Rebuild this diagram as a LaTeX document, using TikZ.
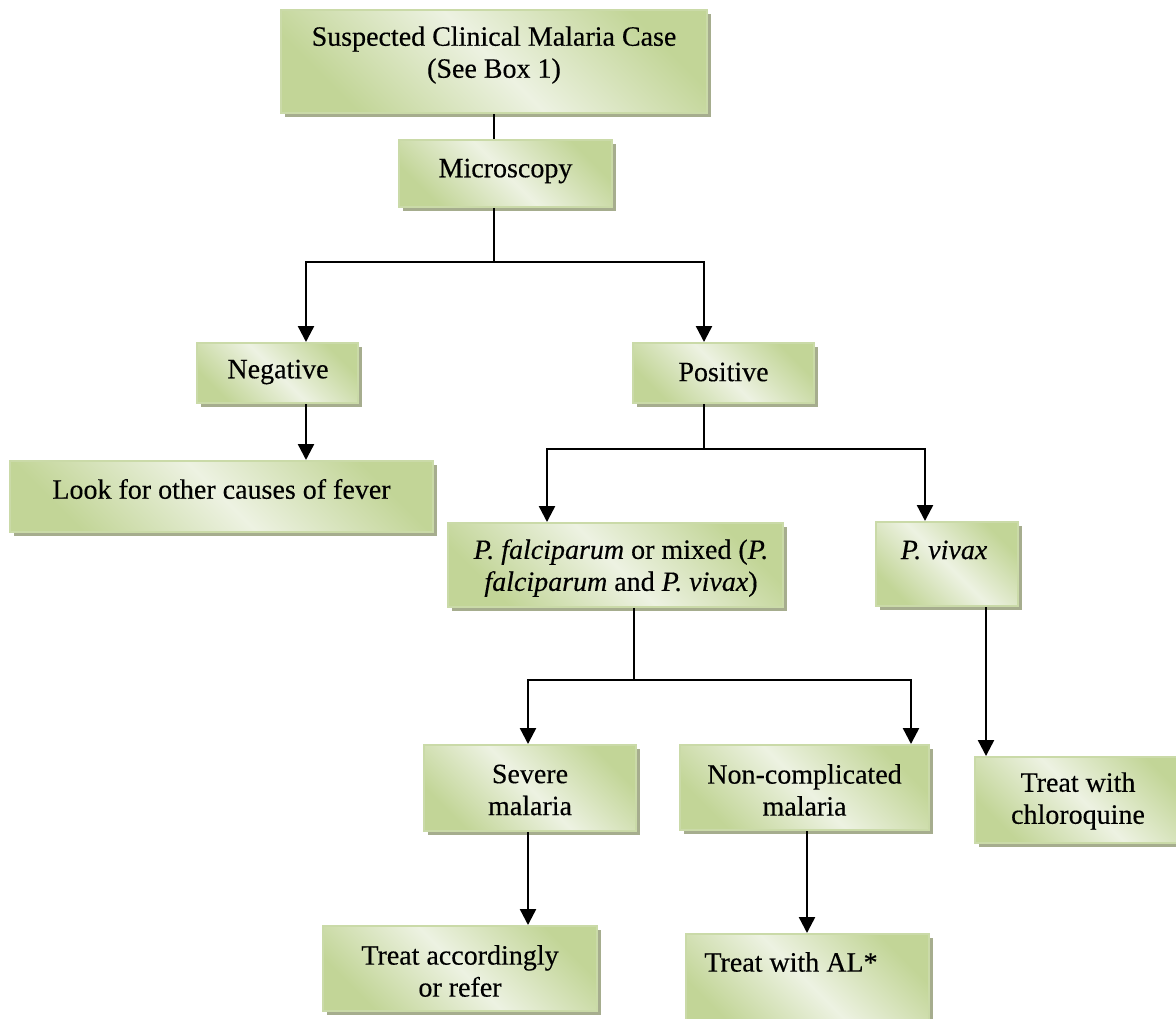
\documentclass[tikz,border=0pt]{standalone}
\usepackage{fontspec}
\setmainfont{Liberation Serif}[FakeBold=0.3]
\usetikzlibrary{arrows.meta,shadows,fit}
\definecolor{mossd}{HTML}{C2D597}
\definecolor{mossl}{HTML}{EDF2E2}
\definecolor{mossb}{HTML}{CADAA8}
\definecolor{shadowc}{HTML}{A6AD8E}
\begin{document}
\begin{tikzpicture}[x=0.5pt,y=-0.5pt,
  box/.style={draw=mossb, line width=1pt, inner sep=0pt,
    top color=mossd, bottom color=mossd, middle color=mossl, shading angle=-45,
    drop shadow={shadow xshift=2pt, shadow yshift=-2pt, fill=shadowc, opacity=1}},
  txt/.style={align=center, inner sep=0pt, font=\fontsize{14}{16}\selectfont},
  conn/.style={line width=1.2pt, black},
  arr/.style={conn, -{Triangle[width=8pt,length=8pt]}}]
\useasboundingbox (0,0) rectangle (1176,1018);
% boxes
\node[box, fit={(281,10) (707,113)}] (susp) {};
\node[box, fit={(399,140) (612,207)}] (micro) {};
\node[box, fit={(197,343) (358,403)}] (neg) {};
\node[box, fit={(633,343) (814,403)}] (pos) {};
\node[box, fit={(10,461) (433,532)}] (look) {};
\node[box, fit={(448,523) (783,607)}] (pfal) {};
\node[box, fit={(876,522) (1018,606)}] (viv) {};
\node[box, fit={(424,745) (636,831)}] (sev) {};
\node[box, fit={(680,745) (929,830)}] (nonc) {};
\node[box, fit={(975,757) (1190,843)}] (chlq) {};
\node[box, fit={(323,926) (597,1011)}] (acc) {};
\node[box, fit={(686,934) (929,1030)}] (al) {};
% texts
\node[txt] (tsusp) at (494,55) {Suspected Clinical Malaria Case\\(See Box 1)};
\node[txt] (tmicro) at (505.5,171) {Microscopy};
\node[txt] (tneg) at (278,372) {Negative};
\node[txt] (tpos) at (723.5,372) {Positive};
\node[txt] (tlook) at (221.5,489) {Look for other causes of fever};
\node[txt] (tpfal) at (621,568) {\textit{P. falciparum} or mixed (\textit{P.}\\\textit{falciparum} and \textit{P. vivax})};
\node[txt] (tviv) at (944,550) {\textit{P. vivax}};
\node[txt] (tsev) at (530,790) {Severe\\malaria};
\node[txt] (tnonc) at (804.5,790) {Non-complicated\\malaria};
\node[txt] (tchlq) at (1078,801) {Treat with\\chloroquine};
\node[txt] (tacc) at (460,971) {Treat accordingly\\or refer};
\node[txt] (tal) at (791,962) {Treat with AL*};
% junction coordinates
\coordinate (j1) at (494,262);
\coordinate (j1l) at (306,262);
\coordinate (j1r) at (704,262);
\coordinate (j2) at (704,449);
\coordinate (j2l) at (547,449);
\coordinate (j2r) at (925,449);
\coordinate (j3) at (634,680);
\coordinate (j3l) at (528,680);
\coordinate (j3r) at (911,680);
\coordinate (vx) at (986,700);
\coordinate (ax) at (807,880);
% connectors
\draw[conn] (susp.south) -- (micro.north -| susp.south);
\draw[conn] (micro.south -| j1) -- (j1);
\draw[arr] (j1) -| (neg.north -| j1l);
\draw[arr] (j1) -| (pos.north -| j1r);
\draw[arr] (neg.south -| j1l) -- (look.north -| j1l);
\draw[conn] (pos.south -| j2) -- (j2);
\draw[arr] (j2) -| (pfal.north -| j2l);
\draw[arr] (j2) -| (viv.north -| j2r);
\draw[conn] (pfal.south -| j3) -- (j3);
\draw[arr] (j3) -| (sev.north -| j3l);
\draw[arr] (j3) -| (nonc.north -| j3r);
\draw[arr] (viv.south -| vx) -- (chlq.north -| vx);
\draw[arr] (sev.south -| j3l) -- (acc.north -| j3l);
\draw[arr] (nonc.south -| ax) -- (al.north -| ax);
\end{tikzpicture}
\end{document}
